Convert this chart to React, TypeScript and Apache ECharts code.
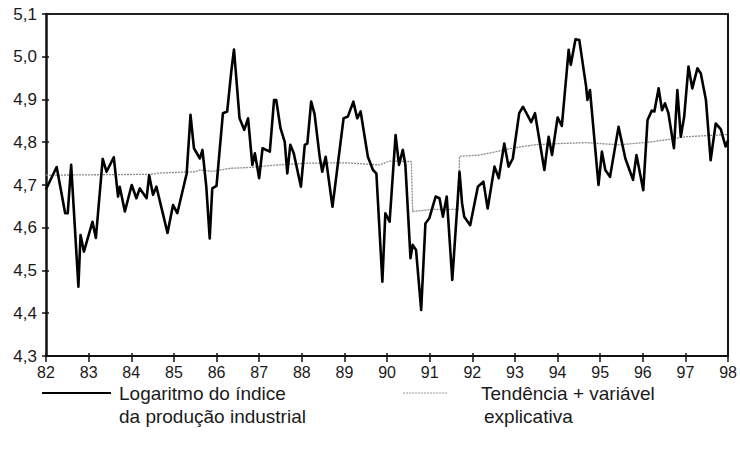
import React, { useEffect, useRef } from "react";
import * as echarts from "echarts";

// X values are years (two-digit, decimal for months)
const mainYears = [
  82.0, 82.25, 82.45, 82.51, 82.59, 82.76, 82.81, 82.89, 83.09, 83.17, 83.33, 83.42, 83.59, 83.69, 83.73, 83.85,
  84.01, 84.12, 84.2, 84.36, 84.42, 84.51, 84.59, 84.85, 84.98, 85.08, 85.3, 85.39, 85.47, 85.61, 85.67, 85.76,
  85.84, 85.9, 86.0, 86.15, 86.25, 86.35, 86.41, 86.54, 86.65, 86.74, 86.84, 86.9, 87.0, 87.08, 87.25, 87.35,
  87.4, 87.5, 87.6, 87.66, 87.73, 87.81, 87.98, 88.07, 88.13, 88.22, 88.3, 88.42, 88.48, 88.56, 88.72, 88.98,
  89.08, 89.21, 89.3, 89.38, 89.55, 89.67, 89.75, 89.89, 89.96, 90.06, 90.2, 90.28, 90.37, 90.43, 90.55, 90.6,
  90.68, 90.8, 90.9, 90.99, 91.14, 91.23, 91.31, 91.4, 91.53, 91.66, 91.7, 91.76, 91.81, 91.95, 92.13, 92.26,
  92.36, 92.52, 92.62, 92.75, 92.85, 92.95, 93.1, 93.19, 93.38, 93.47, 93.69, 93.79, 93.87, 94.0, 94.1, 94.26,
  94.31, 94.42, 94.51, 94.67, 94.7, 94.76, 94.96, 95.04, 95.12, 95.23, 95.43, 95.59, 95.77, 95.85, 96.01, 96.11,
  96.21, 96.27, 96.37, 96.45, 96.52, 96.6, 96.73, 96.81, 96.89, 96.97, 97.07, 97.16, 97.28, 97.36, 97.48, 97.59,
  97.71, 97.83, 97.94, 98.0,
];
const mainValues = [
  4.69, 4.742, 4.634, 4.634, 4.747, 4.462, 4.583, 4.544, 4.614, 4.576, 4.761, 4.731, 4.765, 4.673, 4.696, 4.638,
  4.7, 4.669, 4.692, 4.669, 4.723, 4.677, 4.696, 4.588, 4.653, 4.634, 4.727, 4.864, 4.786, 4.762, 4.782, 4.696,
  4.575, 4.692, 4.698, 4.868, 4.872, 4.969, 5.017, 4.856, 4.829, 4.856, 4.747, 4.774, 4.716, 4.786, 4.778, 4.899,
  4.899, 4.833, 4.801, 4.727, 4.794, 4.775, 4.696, 4.794, 4.797, 4.895, 4.866, 4.766, 4.731, 4.766, 4.649, 4.856,
  4.86, 4.895, 4.856, 4.872, 4.766, 4.735, 4.727, 4.474, 4.634, 4.614, 4.817, 4.747, 4.782, 4.747, 4.529, 4.56,
  4.548, 4.408, 4.61, 4.622, 4.673, 4.669, 4.626, 4.673, 4.478, 4.669, 4.731, 4.657, 4.626, 4.606, 4.696, 4.708,
  4.645, 4.743, 4.716, 4.797, 4.743, 4.762, 4.868, 4.883, 4.847, 4.868, 4.735, 4.813, 4.77, 4.858, 4.838, 5.016,
  4.981, 5.041, 5.039, 4.93, 4.899, 4.922, 4.7, 4.778, 4.735, 4.719, 4.836, 4.762, 4.712, 4.77, 4.688, 4.852,
  4.874, 4.872, 4.926, 4.875, 4.891, 4.868, 4.786, 4.922, 4.813, 4.86, 4.977, 4.926, 4.973, 4.961, 4.899, 4.758,
  4.844, 4.83, 4.79, 4.805,
];

const trendYears = [
  82.0, 84.44, 84.67, 85.49, 85.61, 85.91, 86.31, 86.78, 87.32, 88.11, 89.03, 89.82, 90.06, 90.46, 90.57, 90.6,
  91.07, 91.67, 91.7, 92.17, 92.56, 92.94, 93.45, 94.04, 94.67, 95.45, 96.22, 97.02, 97.79, 98.0,
];
const trendValues = [
  4.723, 4.725, 4.728, 4.731, 4.735, 4.732, 4.739, 4.741, 4.746, 4.751, 4.752, 4.747, 4.756, 4.755, 4.755, 4.638,
  4.643, 4.643, 4.767, 4.77, 4.778, 4.786, 4.794, 4.797, 4.799, 4.794, 4.801, 4.813, 4.817, 4.818,
];

const xMin = 82;
const xMax = 98;
const yMin = 4.3;
const yMax = 5.1;

const legendMain = ["Logaritmo do índice", "da produção industrial"];
const legendTrend = ["Tendência + variável", "explicativa"];

const FONT = "'Liberation Sans', Arial, Helvetica, sans-serif";

export default function App() {
  const ref = useRef<HTMLDivElement>(null);

  useEffect(() => {
    if (!ref.current) return;
    const chart = echarts.init(ref.current, null, { renderer: "svg" });
    const mainData = mainYears.map((x, i) => [x, mainValues[i]]);
    const trendData = trendYears.map((x, i) => [x, trendValues[i]]);

    const baseX = { type: "value", min: xMin, max: xMax, interval: 1, splitLine: { show: false } };
    const baseY = { type: "value", min: yMin, max: yMax, interval: 0.1, splitLine: { show: false } };
    const legendText = (text: string, x: number, y: number) => ({
      type: "text",
      x,
      y,
      style: { text, fontSize: 19, fontFamily: FONT, fill: "#1a1a1a", verticalAlign: "middle" },
    });

    chart.setOption({
      animation: false,
      backgroundColor: "#fff",
      textStyle: { fontFamily: FONT },
      grid: { left: 46, right: 11, top: 14, bottom: 97 },
      xAxis: [
        {
          ...baseX,
          position: "bottom",
          axisLine: { show: true, lineStyle: { color: "#111", width: 2 } },
          axisTick: { show: true, inside: false, length: 6, lineStyle: { color: "#111", width: 1.5 } },
          axisLabel: {
            show: true,
            fontSize: 16,
            color: "#1a1a1a",
            margin: 8,
            fontFamily: FONT,
            formatter: (v: number) => String(Math.round(v)),
          },
        },
        {
          ...baseX,
          position: "bottom",
          axisLine: { show: false },
          axisTick: { show: true, inside: true, length: 3, lineStyle: { color: "#111", width: 1.5 } },
          axisLabel: { show: false },
        },
        {
          ...baseX,
          position: "top",
          axisLine: { show: true, lineStyle: { color: "#222", width: 2 } },
          axisTick: { show: false },
          axisLabel: { show: false },
        },
      ],
      yAxis: [
        {
          ...baseY,
          position: "left",
          axisLine: { show: true, lineStyle: { color: "#111", width: 2.5 } },
          axisTick: { show: true, inside: false, length: 4, lineStyle: { color: "#111", width: 1.5 } },
          axisLabel: {
            show: true,
            fontSize: 17,
            color: "#1a1a1a",
            margin: 9,
            fontFamily: FONT,
            formatter: (v: number) => v.toFixed(1).replace(".", ","),
          },
        },
        {
          ...baseY,
          position: "left",
          axisLine: { show: false },
          axisTick: { show: true, inside: true, length: 3, lineStyle: { color: "#111", width: 1.5 } },
          axisLabel: { show: false },
        },
        {
          ...baseY,
          position: "right",
          axisLine: { show: true, lineStyle: { color: "#111", width: 2 } },
          axisTick: { show: false },
          axisLabel: { show: false },
        },
      ],
      series: [
        {
          name: "Tendência + variável explicativa",
          type: "line",
          xAxisIndex: 0,
          yAxisIndex: 0,
          data: trendData,
          showSymbol: false,
          lineStyle: { color: "#8a8a8a", width: 1.3, type: [2, 1] },
          z: 2,
        },
        {
          name: "Logaritmo do índice da produção industrial",
          type: "line",
          xAxisIndex: 0,
          yAxisIndex: 0,
          data: mainData,
          showSymbol: false,
          lineStyle: { color: "#000", width: 2.6, join: "round" },
          z: 3,
        },
      ],
      graphic: [
        {
          type: "line",
          shape: { x1: 42, y1: 393, x2: 111, y2: 393 },
          style: { stroke: "#000", lineWidth: 2 },
        },
        legendText(legendMain[0], 119, 393),
        legendText(legendMain[1], 119, 416),
        {
          type: "line",
          shape: { x1: 403, y1: 393, x2: 448, y2: 393 },
          style: { stroke: "#999", lineWidth: 1.2, lineDash: [2, 1] },
        },
        legendText(legendTrend[0], 481, 393),
        legendText(legendTrend[1], 484, 416),
      ],
    });
    return () => chart.dispose();
  }, []);

  return (
    <div
      ref={ref}
      style={{ position: "fixed", left: 0, top: 0, width: 740, height: 453, background: "#fff" }}
    />
  );
}
